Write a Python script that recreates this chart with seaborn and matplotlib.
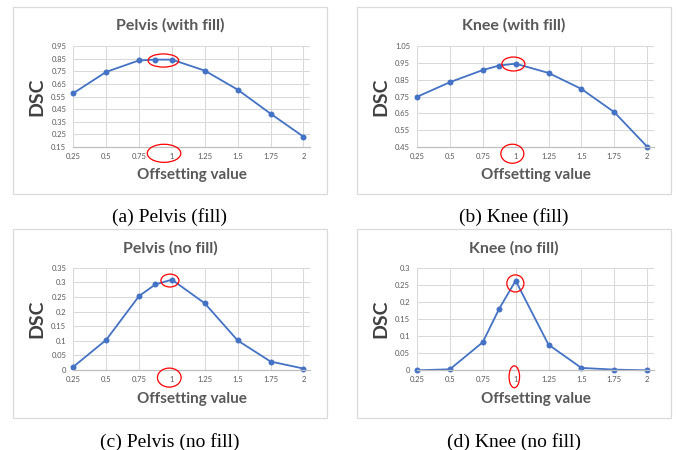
import matplotlib
matplotlib.use("Agg")
import matplotlib.pyplot as plt
import seaborn as sns
import numpy as np
import pandas as pd
from matplotlib.patches import Ellipse, Rectangle
from matplotlib.ticker import FuncFormatter

# ---- data ----
offsets = [0.25, 0.5, 0.75, 0.875, 1.0, 1.25, 1.5, 1.75, 2.0]
pelvis_fill = [0.576, 0.745, 0.836, 0.842, 0.842, 0.755, 0.604, 0.414, 0.232]
knee_fill = [0.748, 0.835, 0.907, 0.934, 0.945, 0.890, 0.795, 0.657, 0.452]
pelvis_nofill = [0.011, 0.103, 0.253, 0.293, 0.309, 0.228, 0.101, 0.029, 0.005]
knee_nofill = [0.000, 0.003, 0.082, 0.180, 0.262, 0.075, 0.007, 0.002, 0.000]

titles = ["Pelvis (with fill)", "Knee (with fill)", "Pelvis (no fill)", "Knee (no fill)"]
captions = ["(a) Pelvis (fill)", "(b) Knee (fill)", "(c) Pelvis (no fill)", "(d) Knee (no fill)"]
series = [pelvis_fill, knee_fill, pelvis_nofill, knee_nofill]
y_ranges = [(0.15, 0.95, 0.1), (0.45, 1.05, 0.1), (0.0, 0.35, 0.05), (0.0, 0.3, 0.05)]
x_ticks = [0.25, 0.5, 0.75, 1.0, 1.25, 1.5, 1.75, 2.0]

sns.set_theme(style="whitegrid")
plt.rcParams['font.family'] = ['Lato', 'DejaVu Sans']

W, H = 676, 450
fig = plt.figure(figsize=(W / 100, H / 100), dpi=100)
fig.patch.set_facecolor("white")

def fx(px):
    return px / W

def fy(py):
    return 1 - py / H

# layout in pixels: (plot left, plot right, plot top, plot bottom, box l, box r, box t, box b, caption y)
layouts = [
    (73.3, 310, 46, 147, 13, 327, 7, 194, 217),
    (417, 654, 46, 147, 357, 671, 7, 194, 217),
    (73.3, 310, 267.7, 370, 13, 327, 229, 418, 442),
    (417, 654, 267.7, 370.3, 357, 671, 229, 418, 442),
]

# annotation ellipses (data coords): (cx, cy, w, h)
ellipses = [
    [(0.935, 0.835, 0.233, 0.104), (0.94, 0.10, 0.255, 0.143)],
    [(0.983, 0.943, 0.175, 0.083), (0.975, 0.41, 0.175, 0.113)],
    [(0.985, 0.306, 0.137, 0.044), (0.98, -0.026, 0.18, 0.065)],
    [(0.998, 0.254, 0.13, 0.05), (0.99, -0.019, 0.08, 0.064)],
]

blue = "#4472C4"
grid_c = "#D9D9D9"
txt_c = "#595959"

fmt = FuncFormatter(lambda v, p: f"{round(v, 4):g}")

for i in range(4):
    pl, pr, pt, pb, bl, br, bt, bb, cy = layouts[i]
    # chart box
    fig.patches.append(Rectangle((fx(bl), fy(bb)), fx(br - bl), (bb - bt) / H,
                                 transform=fig.transFigure, fill=False,
                                 edgecolor=grid_c, lw=0.9, zorder=0))
    ax = fig.add_axes([fx(pl), fy(pb), fx(pr - pl), (pb - pt) / H])
    df = pd.DataFrame({"Offsetting value": offsets, "DSC": series[i]})
    sns.lineplot(data=df, x="Offsetting value", y="DSC", ax=ax, color=blue,
                 marker="o", markersize=4.3, markeredgewidth=0, lw=1.3)
    for ln in ax.lines:
        ln.set_clip_on(False)
    ymin, ymax, ystep = y_ranges[i]
    ax.set_ylim(ymin, ymax)
    ax.set_xlim(0.25, 0.25 + (pr - pl) / 131.5)
    nt = int(round((ymax - ymin) / ystep))
    ax.set_yticks([ymin + k * ystep for k in range(nt + 1)])
    ax.set_xticks(x_ticks)
    ax.yaxis.set_major_formatter(fmt)
    ax.xaxis.set_major_formatter(fmt)
    ax.grid(True, color=grid_c, lw=0.75)
    for s in ["left", "right", "top"]:
        ax.spines[s].set_visible(False)
    ax.spines["bottom"].set_color("#BFBFBF")
    ax.spines["bottom"].set_linewidth(0.9)
    ax.tick_params(axis="both", length=0, labelsize=5.5, labelcolor=txt_c)
    ax.tick_params(axis="x", pad=4.4)
    ax.tick_params(axis="y", pad=5)
    ax.set_facecolor("white")

    # axis labels
    ax.set_ylabel("DSC", fontsize=14, fontweight="bold", color="#404040")
    ax.yaxis.set_label_coords((37 - pl) / (pr - pl) if i % 2 == 0 else (381 - pl) / (pr - pl), 0.5)
    ax.yaxis.label.set_va("center")
    ax.set_xlabel("Offsetting value", fontsize=11, fontweight="bold", color=txt_c)
    xl_y = 175 if i < 2 else 398.5
    ax.xaxis.set_label_coords(0.5, (pb - xl_y) / (pb - pt))
    ax.xaxis.label.set_va("center")

    # title
    fig.text(fx((bl + br) / 2), fy(25 if i < 2 else 248), titles[i], ha="center", va="center",
             fontsize=11.5, fontweight="bold", color=txt_c)
    # caption
    fig.text(fx((bl + br) / 2), fy(cy), captions[i], ha="center", va="center",
             fontsize=14, family="Liberation Serif", color="black")

    for (ex, ey, ew, eh) in ellipses[i]:
        ax.add_patch(Ellipse((ex, ey), ew, eh, fill=False, edgecolor="#FF0000",
                             lw=0.9, clip_on=False, zorder=5))

fig.savefig("out.png", dpi=100, facecolor="white")
